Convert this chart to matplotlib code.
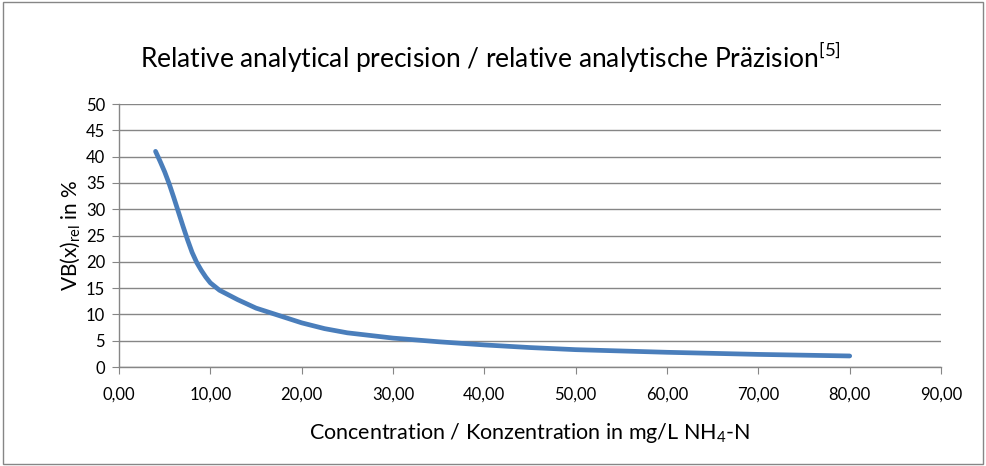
import matplotlib
matplotlib.use("Agg")
import matplotlib.pyplot as plt
from matplotlib.patches import Rectangle

# values
conc = [4, 4.5, 5, 5.5, 6, 6.5, 7, 7.5, 8, 8.5, 9, 9.5, 10, 11, 12, 13, 15, 17.5, 20, 22.5, 25, 30, 35, 40, 45, 50, 60, 70, 80]
vb_rel = [41, 39.1, 37.1, 34.8, 32.2, 29.5, 26.8, 24.2, 21.8, 19.9, 18.4, 17.1, 16.0, 14.6, 13.7, 12.8, 11.2, 9.8, 8.4, 7.3, 6.5, 5.5, 4.8, 4.2, 3.7, 3.3, 2.8, 2.4, 2.1]
xticks = [0, 10, 20, 30, 40, 50, 60, 70, 80, 90]
yticks = [0, 5, 10, 15, 20, 25, 30, 35, 40, 45, 50]

plt.rcParams['font.family'] = ['Lato', 'DejaVu Sans']
grey = '#868686'

fig = plt.figure(figsize=(9.86, 4.66), dpi=100)
fig.patches.append(Rectangle((0.003, 0.004), 0.994, 0.992, transform=fig.transFigure,
                             fill=False, edgecolor=grey, linewidth=1))

ax = fig.add_axes([0.1207, 0.2124, 0.8337, 0.5644])
ax.plot(conc, vb_rel, color='#4A7EBB', linewidth=3.4, solid_capstyle='round', solid_joinstyle='round')

ax.set_xlim(0, 90)
ax.set_ylim(0, 50)
ax.set_xticks(xticks)
ax.set_xticklabels([f"{t:.2f}".replace('.', ',') for t in xticks])
ax.set_yticks(yticks)
ax.grid(axis='y', color=grey, linewidth=1)
ax.set_axisbelow(True)
for s in ['top', 'right']:
    ax.spines[s].set_visible(False)
for s in ['left', 'bottom']:
    ax.spines[s].set_color(grey)
    ax.spines[s].set_linewidth(1)
ax.tick_params(direction='out', length=5, color=grey, labelsize=12)
ax.tick_params(axis='x', pad=9)
ax.tick_params(axis='y', pad=5)

fig.text(0.497, 0.876, r'Relative analytical precision / relative analytische Präzision$^{\mathregular{[5]}}$',
         fontsize=19, ha='center', va='center')
ax.set_xlabel(r'Concentration / Konzentration in mg/L NH$_{\mathregular{4}}$-N', fontsize=15.5, labelpad=13)
ax.set_ylabel(r'VB(x)$_{\mathregular{rel}}$ in %', fontsize=15, labelpad=2)

fig.savefig('out.png', dpi=100)
